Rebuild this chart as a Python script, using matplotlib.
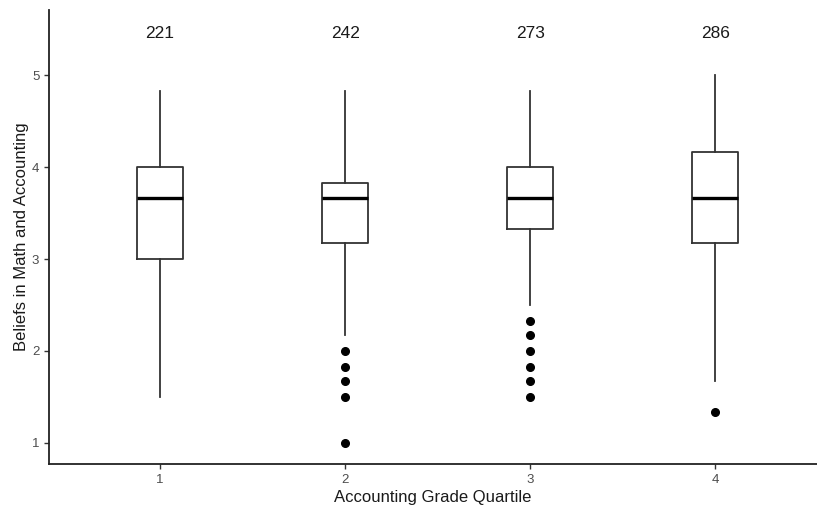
import matplotlib
matplotlib.use("Agg")
import matplotlib.pyplot as plt

plt.rcParams['font.family'] = ['Liberation Sans', 'DejaVu Sans']

quartiles = [1, 2, 3, 4]
counts = [221, 242, 273, 286]
whisker_low = [1.5, 2.17, 2.5, 1.67]
q1 = [3.0, 3.17, 3.33, 3.17]
median = [3.67, 3.67, 3.67, 3.67]
q3 = [4.0, 3.83, 4.0, 4.17]
whisker_high = [4.83, 4.83, 4.83, 5.0]
outliers = [
    [],
    [2.0, 1.83, 1.67, 1.5, 1.0],
    [2.33, 2.17, 2.0, 1.83, 1.67, 1.5],
    [1.33],
]

fig = plt.figure(figsize=(8.17, 5.12), dpi=100)
ax = fig.add_axes([0.06, 0.094, 0.94, 0.886])

stats = []
for i in range(len(quartiles)):
    stats.append(dict(med=median[i], q1=q1[i], q3=q3[i], whislo=whisker_low[i],
                      whishi=whisker_high[i], fliers=outliers[i], label=str(quartiles[i])))

ax.bxp(stats, positions=quartiles, widths=0.25, showcaps=False,
       boxprops=dict(color='#333333', linewidth=1.3),
       whiskerprops=dict(color='#333333', linewidth=1.3),
       medianprops=dict(color='black', linewidth=2.4),
       flierprops=dict(marker='o', markerfacecolor='black', markeredgecolor='black', markersize=5.5))

for x, c in zip(quartiles, counts):
    ax.text(x, 5.46, str(c), ha='center', va='center', fontsize=12.5, color='#1a1a1a')

ax.set_xlim(0.4, 4.55)
ax.set_ylim(0.77, 5.71)
ax.set_yticks([1, 2, 3, 4, 5])
ax.set_xticks(quartiles)
ax.set_xticklabels([str(q) for q in quartiles])
for s in ['top', 'right']:
    ax.spines[s].set_visible(False)
for s in ['left', 'bottom']:
    ax.spines[s].set_linewidth(1.3)
    ax.spines[s].set_color('#222222')
ax.tick_params(axis='both', colors='#333333', labelcolor='#4d4d4d', labelsize=9.5, length=3.5, width=1)
ax.set_xlabel('Accounting Grade Quartile', fontsize=12, color='#1a1a1a', labelpad=3)
ax.set_ylabel('Beliefs in Math and Accounting', fontsize=12, color='#1a1a1a', labelpad=2)

fig.savefig('out.png', dpi=100)
